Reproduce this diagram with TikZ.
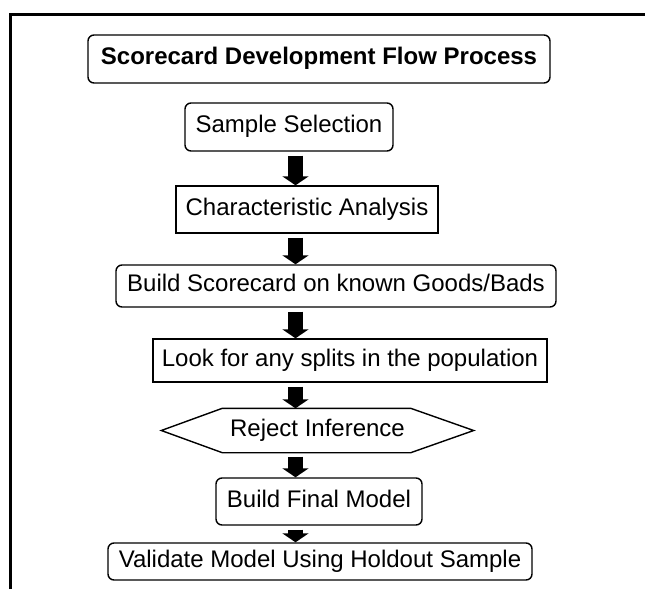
\documentclass[tikz,border=0pt]{standalone}
\usepackage{fontspec}
\setmainfont{Liberation Sans}
\usetikzlibrary{arrows.meta,calc}
\begin{document}
\begin{tikzpicture}[x=1pt,y=-1pt,
  box/.style={draw, line width=1.4pt, inner sep=0pt, text height=17pt, text depth=6pt,
    font=\fontsize{24}{28}\selectfont},
  rbox/.style={box, rounded corners=6pt},
  flowarrow/.style={line width=15pt, -{Triangle[width=26pt,length=9pt]}}
]
\useasboundingbox (0,0) rectangle (645,589);
\draw[line width=3pt] (10,589) -- (10,14) -- (645,14);

\node[rbox, font=\fontsize{24}{28}\selectfont\bfseries, minimum width=462pt, minimum height=48pt] (title) at (319,59) {Scorecard Development Flow Process};
\node[rbox, minimum width=208pt, minimum height=48pt] (s1) at (289,127) {Sample Selection};
\node[box, minimum width=262pt, minimum height=47pt] (s2) at (307,209.5) {Characteristic Analysis};
\node[rbox, minimum width=440pt, minimum height=42pt] (s3) at (336,286) {Build Scorecard on known Goods/Bads};
\node[box, minimum width=394pt, minimum height=43pt] (s4) at (350,360.5) {Look for any splits in the population};
\node[box, draw=none, minimum width=311pt, minimum height=43pt] (s5) at (317.5,430.5) {Reject Inference};
\draw[line width=1.4pt, line join=miter] (s5.west) -- ($(s5.north west)+(61,0)$) -- ($(s5.north east)+(-63,0)$) -- (s5.east) -- ($(s5.south east)+(-63,0)$) -- ($(s5.south west)+(61,0)$) -- cycle;
\node[rbox, minimum width=206pt, minimum height=47pt] (s6) at (319,501.5) {Build Final Model};
\node[rbox, minimum width=424pt, minimum height=37pt] (s7) at (320,561.5) {Validate Model Using Holdout Sample};

\coordinate (ax) at (295.5,0);
\draw[flowarrow] ([yshift=-4pt]s1.south -| ax) -- (s2.north -| ax);
\draw[flowarrow] ([yshift=-4pt]s2.south -| ax) -- (s3.north -| ax);
\draw[flowarrow] ([yshift=-4pt]s3.south -| ax) -- (s4.north -| ax);
\draw[flowarrow] ([yshift=-4pt]s4.south -| ax) -- (s5.north -| ax);
\draw[flowarrow] ([yshift=-4pt]s5.south -| ax) -- (s6.north -| ax);
\draw[flowarrow] ([yshift=-4pt]s6.south -| ax) -- (s7.north -| ax);
\end{tikzpicture}
\end{document}
